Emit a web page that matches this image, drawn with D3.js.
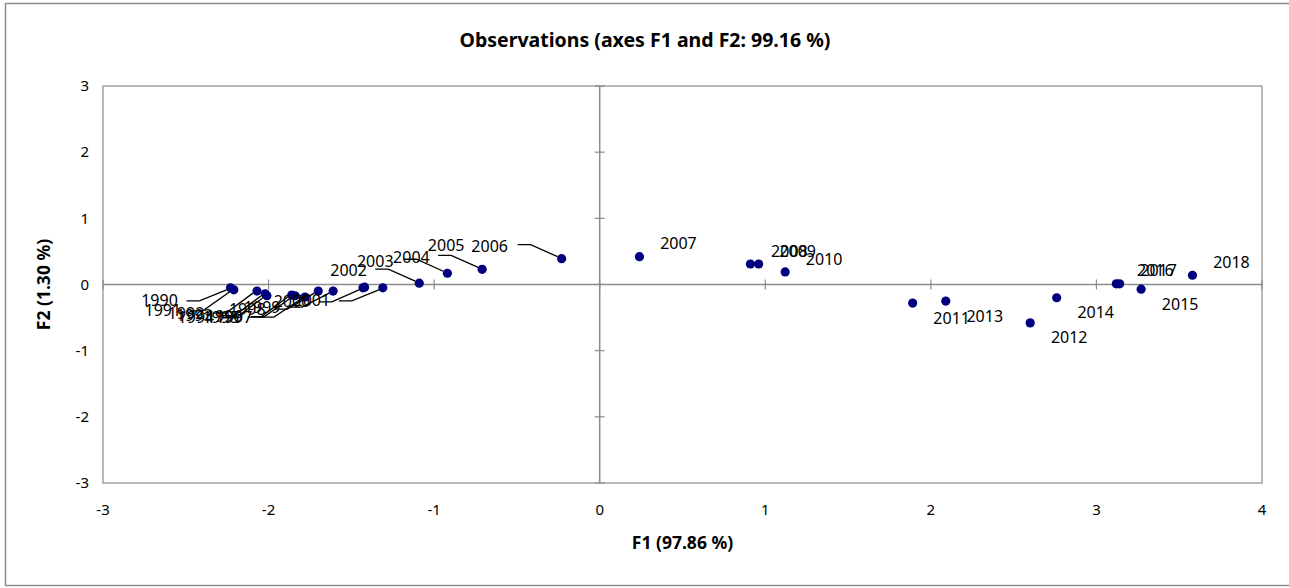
<!DOCTYPE html>
<html>
<head>
<meta charset="utf-8">
<script src="https://cdn.jsdelivr.net/npm/d3@7"></script>
<style>
  body { margin: 0; background: #fff; }
  svg text { font-family: "Noto Sans", "Liberation Sans", sans-serif; fill: #000; }
</style>
</head>
<body>
<div id="chart"></div>
<script>
// observation scores on the first two factors
const years = d3.range(1990, 2019).map(String);
const f1 = [-2.23, -2.21, -2.07, -2.02, -2.01, -1.86, -1.84, -1.78, -1.70, -1.61, -1.43, -1.31, -1.42,
  -1.09, -0.92, -0.71, -0.23, 0.24, 0.91, 0.96, 1.12, 1.89, 2.60, 2.09, 2.76, 3.27, 3.12, 3.14, 3.58];
const f2 = [-0.05, -0.08, -0.10, -0.14, -0.17, -0.16, -0.17, -0.19, -0.10, -0.10, -0.05, -0.05, -0.04,
  0.02, 0.17, 0.23, 0.39, 0.42, 0.31, 0.31, 0.19, -0.28, -0.58, -0.25, -0.20, -0.07, 0.01, 0.01, 0.14];
const xTicks = [-3, -2, -1, 0, 1, 2, 3, 4];
const yTicks = [-3, -2, -1, 0, 1, 2, 3];

const titleText = "Observations (axes F1 and F2: 99.16 %)";
const xTitle = "F1 (97.86 %)";
const yTitle = "F2 (1.30 %)";

// label placement (pixel offsets from the dot), as the chart tool left them
const above = [39, -13], below = [39, 15];
const labelOffset = {
  "1990": [-71, 13], "1991": [-71, 21], "1992": [-71, 22], "1993": [-71, 22],
  "1994": [-71, 22], "1995": [-71, 22], "1996": [-71, 21], "1997": [-71, 20],
  "1998": [-71, 18], "1999": [-71, 16], "2000": [-71, 14], "2001": [-71, 13],
  "2002": [-16, -17], "2003": [-44, -22], "2004": [-36, -16], "2005": [-36, -24],
  "2006": [-72, -12],
  "2007": above, "2008": above, "2009": above, "2010": above,
  "2011": below, "2012": below, "2013": below, "2014": below, "2015": below,
  "2016": above, "2017": above, "2018": above
};
// leader lines: horizontal stub then a straight run to the dot
const leaderLow = ["1990", "1991", "1992", "1993", "1994", "1995", "1996", "1997", "1998", "1999", "2000", "2001"];
const leaderHigh = ["2003", "2004", "2005", "2006"];

const svgWidth = 1289;
const svgHeight = 588;
const margin = { top: 86, right: 27, bottom: 105, left: 103 };
const width = 1262 - margin.left;
const height = 483 - margin.top;

const svg = d3.select("#chart")
  .append("svg")
  .attr("width", svgWidth)
  .attr("height", svgHeight);

// outer frame
svg.append("rect")
  .attr("x", 5.5).attr("y", 3.5)
  .attr("width", 1320).attr("height", 582)
  .attr("fill", "none")
  .attr("stroke", "#8c8c8c")
  .attr("stroke-width", 1.5);

svg.append("text")
  .attr("x", 645).attr("y", 47)
  .attr("text-anchor", "middle")
  .attr("font-size", 19.5)
  .attr("font-weight", "bold")
  .text(titleText);

const chartGroup = svg.append("g")
  .attr("transform", `translate(${margin.left}, ${margin.top})`);

const x = d3.scaleLinear().domain([-3, 4]).range([0, width]);
const y = d3.scaleLinear().domain([-3, 3]).range([height, 0]);

const grey = "#8c8c8c";

// plot frame
chartGroup.append("rect")
  .attr("width", width).attr("height", height)
  .attr("fill", "none").attr("stroke", grey).attr("stroke-width", 1.2);

// zero axes with crossing ticks
chartGroup.append("line")
  .attr("x1", 0).attr("x2", width)
  .attr("y1", y(0)).attr("y2", y(0))
  .attr("stroke", grey).attr("stroke-width", 1.5);
chartGroup.append("line")
  .attr("x1", x(0)).attr("x2", x(0))
  .attr("y1", 0).attr("y2", height)
  .attr("stroke", grey).attr("stroke-width", 1.5);

chartGroup.selectAll(".xtick")
  .data(xTicks)
  .enter()
  .append("line")
  .attr("x1", d => x(d)).attr("x2", d => x(d))
  .attr("y1", y(0) - 5).attr("y2", y(0) + 5)
  .attr("stroke", grey).attr("stroke-width", 1.2);

chartGroup.selectAll(".ytick")
  .data(yTicks)
  .enter()
  .append("line")
  .attr("x1", x(0) - 5).attr("x2", x(0) + 5)
  .attr("y1", d => y(d)).attr("y2", d => y(d))
  .attr("stroke", grey).attr("stroke-width", 1.2);

// tick labels
chartGroup.selectAll(".xlab")
  .data(xTicks)
  .enter()
  .append("text")
  .attr("x", d => x(d))
  .attr("y", height + 32)
  .attr("text-anchor", "middle")
  .attr("font-size", 15)
  .text(d => d);

chartGroup.selectAll(".ylab")
  .data(yTicks)
  .enter()
  .append("text")
  .attr("x", -14)
  .attr("y", d => y(d))
  .attr("dy", "0.35em")
  .attr("text-anchor", "end")
  .attr("font-size", 15)
  .text(d => d);

// axis titles
chartGroup.append("text")
  .attr("x", width / 2)
  .attr("y", height + 66)
  .attr("text-anchor", "middle")
  .attr("font-size", 17.5)
  .attr("font-weight", "bold")
  .text(xTitle);

chartGroup.append("text")
  .attr("transform", "rotate(-90)")
  .attr("x", -y(0))
  .attr("y", -59)
  .attr("dy", "0.35em")
  .attr("text-anchor", "middle")
  .attr("font-size", 17.5)
  .attr("font-weight", "bold")
  .text(yTitle);

const obs = years.map((yr, i) => ({ year: yr, f1: f1[i], f2: f2[i] }));

// leader lines
const leaders = obs.filter(d => leaderLow.includes(d.year) || leaderHigh.includes(d.year));
chartGroup.selectAll(".leader")
  .data(leaders)
  .enter()
  .append("polyline")
  .attr("fill", "none")
  .attr("stroke", "#000")
  .attr("stroke-width", 1.3)
  .attr("points", d => {
    const px = x(d.f1), py = y(d.f2);
    const dy = leaderLow.includes(d.year) ? labelOffset[d.year][1] : -14;
    return [[px - 44, py + dy], [px - 31, py + dy], [px - 4, py + (dy > 0 ? 2 : -2)]]
      .map(p => p.join(",")).join(" ");
  });

// points
chartGroup.selectAll("circle")
  .data(obs)
  .enter()
  .append("circle")
  .attr("cx", d => x(d.f1))
  .attr("cy", d => y(d.f2))
  .attr("r", 4.6)
  .attr("fill", "#00007f");

// point labels
chartGroup.selectAll(".obs-label")
  .data(obs)
  .enter()
  .append("text")
  .attr("x", d => x(d.f1) + labelOffset[d.year][0])
  .attr("y", d => y(d.f2) + labelOffset[d.year][1])
  .attr("dy", "0.35em")
  .attr("text-anchor", "middle")
  .attr("font-size", 16)
  .text(d => d.year);
</script>
</body>
</html>
